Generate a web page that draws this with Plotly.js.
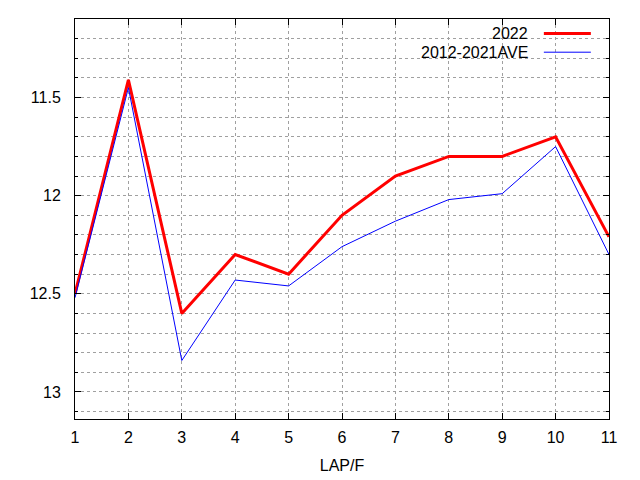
<!DOCTYPE html>
<html>
<head>
<meta charset="utf-8">
<script src="https://cdn.plot.ly/plotly-3.0.1.min.js"></script>
<style>html,body{margin:0;padding:0;background:#fff;}#chart{width:640px;height:480px;}</style>
</head>
<body>
<div id="chart"></div>
<script>
const laps = [1, 2, 3, 4, 5, 6, 7, 8, 9, 10, 11];
const series2022 = [12.50, 11.41, 12.60, 12.30, 12.40, 12.10, 11.90, 11.80, 11.80, 11.70, 12.21];
const seriesAve = [12.52, 11.45, 12.84, 12.43, 12.46, 12.26, 12.13, 12.02, 11.99, 11.75, 12.30];
const seriesNames = ["2022", "2012-2021AVE"];
const xTitle = "LAP/F";

const font = {family: "Liberation Sans, Arial, sans-serif", size: 16, color: "#000"};
const gridColor = "#a0a0a0";

const traces = [
  {x: laps, y: series2022, name: seriesNames[0], type: "scatter", mode: "lines",
   line: {color: "#ff0000", width: 3}},
  {x: laps, y: seriesAve, name: seriesNames[1], type: "scatter", mode: "lines",
   line: {color: "#0000ff", width: 1}}
];

const layout = {
  width: 640, height: 480,
  margin: {l: 75, r: 31, t: 19, b: 61},
  paper_bgcolor: "#fff", plot_bgcolor: "#fff",
  font: font,
  showlegend: false,
  xaxis: {
    range: [1, 11], dtick: 1, tick0: 1,
    ticks: "inside", ticklen: 6, tickcolor: "#000", tickwidth: 1,
    showline: true, linecolor: "#000", linewidth: 1, mirror: "ticks",
    showgrid: true, gridcolor: gridColor, griddash: "3px,3px", gridwidth: 1,
    zeroline: false, ticklabelstandoff: 4,
    title: {text: xTitle, font: font, standoff: 14}
  },
  yaxis: {
    range: [13.138, 11.1], dtick: 0.5, tick0: 11.5,
    ticks: "inside", ticklen: 6, tickcolor: "#000", tickwidth: 1,
    showline: true, linecolor: "#000", linewidth: 1, mirror: "ticks",
    showgrid: true, gridcolor: gridColor, griddash: "3px,3px", gridwidth: 1,
    zeroline: false, ticklabelstandoff: 10,
    minor: {dtick: 0.1, tick0: 11.5, ticks: "inside", ticklen: 3, tickcolor: "#000",
            showgrid: true, gridcolor: gridColor, griddash: "3px,3px", gridwidth: 1}
  },
  shapes: [
    {type: "rect", xref: "paper", yref: "paper", x0: 0.633, x1: 0.981, y0: 0.895, y1: 1,
     fillcolor: "#fff", line: {width: 0}, layer: "between"},
    {type: "line", xref: "paper", yref: "paper", x0: 0.878, x1: 0.966, y0: 0.964, y1: 0.964,
     line: {color: "#ff0000", width: 3}, layer: "above"},
    {type: "line", xref: "paper", yref: "paper", x0: 0.878, x1: 0.966, y0: 0.917, y1: 0.917,
     line: {color: "#0000ff", width: 1}, layer: "above"}
  ],
  annotations: [
    {xref: "paper", yref: "paper", x: 0.852, y: 0.964, xanchor: "right", yanchor: "middle",
     text: seriesNames[0], showarrow: false, font: font},
    {xref: "paper", yref: "paper", x: 0.852, y: 0.917, xanchor: "right", yanchor: "middle",
     text: seriesNames[1], showarrow: false, font: font}
  ]
};

Plotly.newPlot("chart", traces, layout, {displayModeBar: false, staticPlot: true});
</script>
</body>
</html>
